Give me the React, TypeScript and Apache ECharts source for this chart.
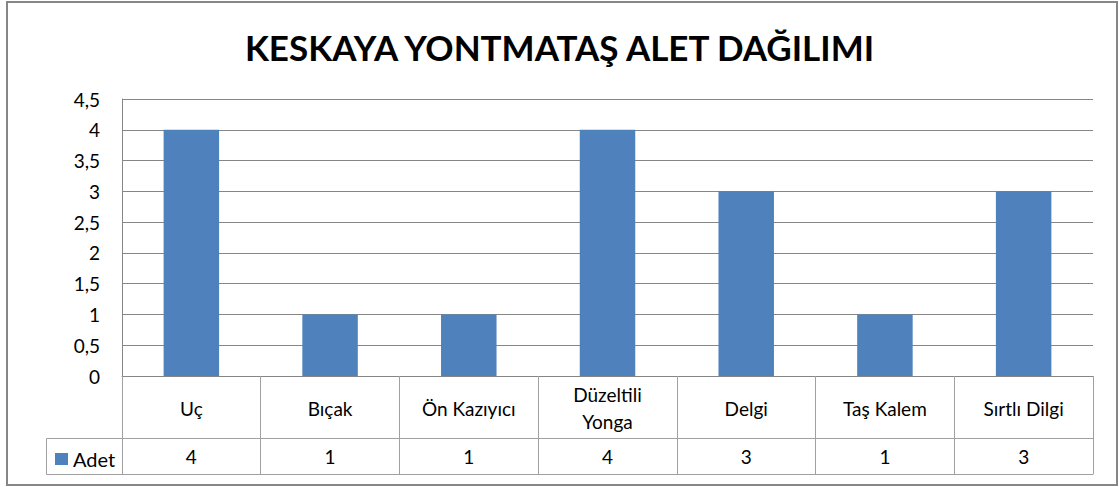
import React, { useEffect, useRef } from "react";
import * as echarts from "echarts";

const categories = ["Uç", "Bıçak", "Ön Kazıyıcı", "Düzeltili\nYonga", "Delgi", "Taş Kalem", "Sırtlı Dilgi"];
const adetValues = [4, 1, 1, 4, 3, 1, 3];
const seriesName = "Adet";
const chartTitle = "KESKAYA YONTMATAŞ ALET DAĞILIMI";

const FONT = "Lato, Carlito, Calibri, 'Liberation Sans', sans-serif";
const GRID_COLOR = "#868686";
const TABLE_COLOR = "#a0a0a0";
const BAR_COLOR = "#4F81BD";

export default function App() {
  const ref = useRef<HTMLDivElement>(null);
  useEffect(() => {
    if (!ref.current) return;
    const chart = echarts.init(ref.current, null, { renderer: "svg" });
    const gridLeft = 122;
    const gridRight = 26;
    const gridTop = 99;
    const gridBottom = 111;
    chart.setOption({
      animation: false,
      backgroundColor: "#ffffff",
      textStyle: { fontFamily: FONT },
      title: {
        text: chartTitle,
        left: "center",
        top: 24,
        textStyle: { fontFamily: FONT, fontSize: 35, fontWeight: "bold", color: "#000" },
      },
      legend: {
        data: [seriesName],
        left: 50,
        top: 444,
        icon: "rect",
        itemWidth: 13,
        itemHeight: 12,
        textStyle: { fontFamily: FONT, fontSize: 20, color: "#000" },
      },
      grid: { left: gridLeft, right: gridRight, top: gridTop, bottom: gridBottom, containLabel: false },
      xAxis: [
        {
          type: "category",
          data: categories,
          position: "bottom",
          axisLine: { show: true, lineStyle: { color: GRID_COLOR } },
          axisTick: { show: true, interval: 0, length: 98, lineStyle: { color: TABLE_COLOR } },
          axisLabel: {
            interval: 0,
            margin: 32,
            verticalAlign: "middle",
            fontFamily: FONT,
            fontSize: 19,
            lineHeight: 27,
            color: "#000",
          },
          splitLine: { show: false },
        },
        {
          type: "category",
          data: categories,
          position: "bottom",
          offset: 62,
          axisLine: { show: true, lineStyle: { color: TABLE_COLOR } },
          axisTick: { show: false },
          axisLabel: {
            interval: 0,
            margin: 18,
            verticalAlign: "middle",
            fontFamily: FONT,
            fontSize: 19,
            color: "#000",
            formatter: (_v: string, i: number) => String(adetValues[i]).replace(".", ","),
          },
        },
        {
          type: "category",
          data: categories,
          position: "bottom",
          offset: 98,
          axisLine: { show: true, lineStyle: { color: TABLE_COLOR } },
          axisTick: { show: false },
          axisLabel: { show: false },
        },
      ],
      yAxis: {
        type: "value",
        min: 0,
        max: 4.5,
        interval: 0.5,
        axisLine: { show: true, lineStyle: { color: GRID_COLOR } },
        axisTick: { show: false },
        splitLine: { show: true, lineStyle: { color: GRID_COLOR } },
        axisLabel: {
          margin: 22,
          fontFamily: FONT,
          fontSize: 19,
          color: "#000",
          formatter: (v: number) => String(v).replace(".", ","),
        },
      },
      series: [
        {
          name: seriesName,
          type: "bar",
          xAxisIndex: 0,
          data: adetValues,
          barWidth: "40%",
          itemStyle: { color: BAR_COLOR },
        },
      ],
      graphic: [
        {
          type: "rect",
          shape: { x: 7, y: 2, width: 1110, height: 483 },
          style: { fill: "none", stroke: GRID_COLOR, lineWidth: 2 },
          silent: true,
          z: -1,
        },
        {
          type: "polyline",
          shape: { points: [[gridLeft, 438.5], [46.5, 438.5], [46.5, 474.5], [gridLeft, 474.5]] },
          style: { fill: "none", stroke: TABLE_COLOR, lineWidth: 1 },
          silent: true,
        },
      ],
    });
    return () => chart.dispose();
  }, []);
  return (
    <div
      ref={ref}
      style={{ position: "fixed", left: 0, top: 0, width: 1119, height: 487 }}
    />
  );
}
